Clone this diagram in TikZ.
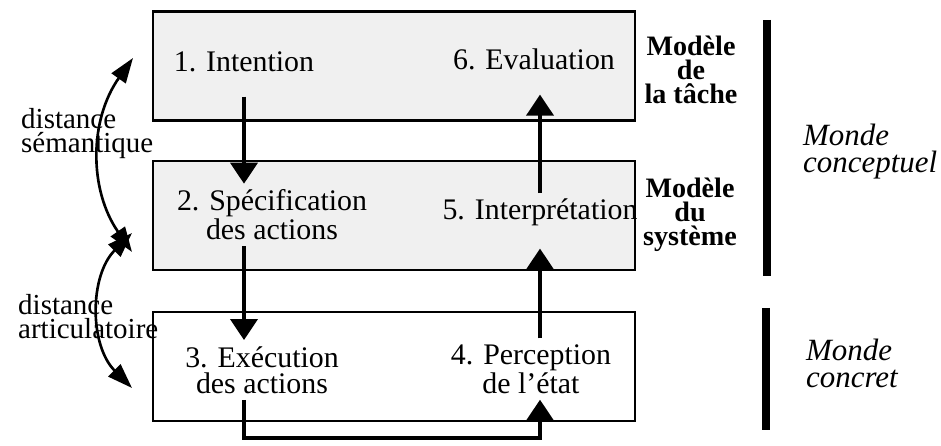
\documentclass[tikz,border=0pt]{standalone}
\usepackage{fontspec}
\setmainfont{Liberation Serif}
\usetikzlibrary{arrows.meta, positioning}

\begin{document}
\begin{tikzpicture}[
        panel/.style={rectangle, draw, line width=1.2pt, minimum width=9.64cm, minimum height=2.18cm},
        etape/.style={align=center, font=\fontsize{17}{15}\selectfont},
        modele/.style={align=center, font=\bfseries\fontsize{16}{13.6}\selectfont},
        monde/.style={align=left, anchor=west, font=\itshape\fontsize{17.6}{15.4}\selectfont},
        dist/.style={align=left, anchor=west, font=\fontsize{16.5}{13.9}\selectfont},
        flow/.style={-{Triangle[length=0.42cm, width=0.54cm]}, line width=2.2pt},
        swing/.style={{Triangle[length=0.5cm, width=0.34cm]}-{Triangle[length=0.5cm, width=0.34cm]}, line width=1.5pt}
    ]
    \useasboundingbox (0,0) rectangle (18.82,8.92);

    % Levels
    \node[panel, fill=gray!12] (tache) at (7.88,7.6) {};
    \node[panel, fill=gray!12, below=0.76cm of tache] (systeme) {};
    \node[panel, below=0.8cm of systeme] (concret) {};

    % Stages
    \node[etape, anchor=base] (intention) at (4.88,7.48) {1. Intention};
    \node[etape, anchor=base] (evaluation) at (10.68,7.52) {6. Evaluation};
    \node[etape] (specification) at (5.44,4.62) {2. Spécification\\des actions};
    \node[etape, anchor=base] (interpretation) at (10.8,4.52) {5. Interprétation};
    \node[etape] (execution) at (5.24,1.52) {3. Exécution\\des actions};
    \node[etape] (perception) at (10.62,1.54) {4. Perception\\de l’état};

    % Models
    \node[modele] (mtache) at (13.82,7.53) {Modèle\\de\\la tâche};
    \node[modele] (msysteme) at (13.8,4.62) {Modèle\\du\\système};

    % Worlds
    \draw[line width=0.16cm] (15.34,8.52) -- (15.34,3.4);
    \draw[line width=0.16cm] (15.32,2.76) -- (15.32,0.32);
    \node[monde] (conceptuel) at (15.94,5.89) {Monde\\conceptuel};
    \node[monde] (mconcret) at (16.0,1.65) {Monde\\concret};

    % Distances
    \coordinate (semA) at (2.66,7.76);
    \coordinate (semB) at (2.64,3.88);
    \coordinate (artA) at (2.64,4.26);
    \coordinate (artB) at (2.64,1.16);
    \draw[swing] (semA) to[bend right=35] (semB);
    \draw[swing] (artA) to[bend right=45] (artB);
    \node[dist] (semantique) at (0.3,6.25) {distance\\sémantique};
    \node[dist] (articulatoire) at (0.24,2.59) {distance\\articulatoire};

    % Data flow
    \draw[flow, shorten <=0.36cm] (intention.south) -- (intention.south |- specification.north);
    \draw[flow] (specification.south -| intention.south) -- (execution.north -| intention.south);
    \draw[flow, shorten >=0.36cm] (interpretation.north) -- (interpretation.north |- evaluation.south);
    \draw[flow, shorten >=0.32cm] (interpretation.south |- perception.north) -- (interpretation.south);
    \draw[flow] (execution.south -| intention.south) -- ++(0,-0.76) -| (perception.south -| interpretation.south);

\end{tikzpicture}
\end{document}
